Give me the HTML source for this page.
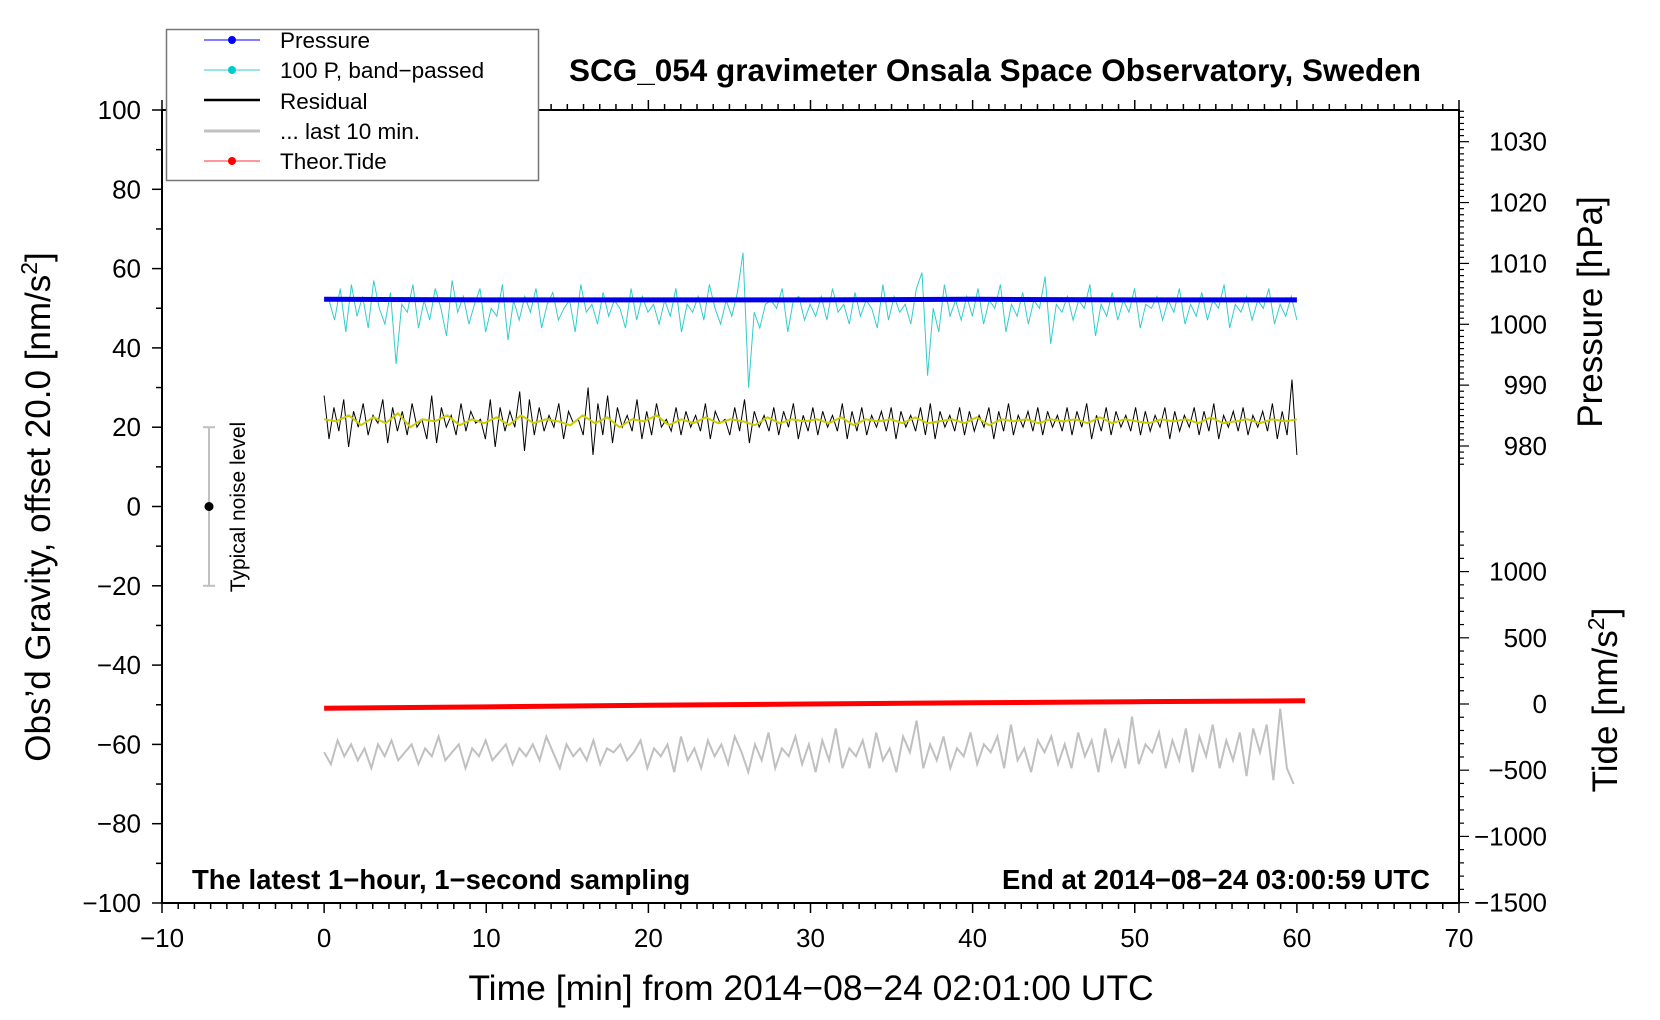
<!DOCTYPE html>
<html><head><meta charset="utf-8"><style>
html,body{margin:0;padding:0;background:#fff;}
svg{display:block;font-family:"Liberation Sans",sans-serif;}
</style></head><body>
<svg id="chart" width="1660" height="1020" viewBox="0 0 1660 1020"></svg>
<script>
// ---- data ----
const xTicks = [-10,0,10,20,30,40,50,60,70];
const yTicks = [100,80,60,40,20,0,-20,-40,-60,-80,-100];
const pTicks = [1030,1020,1010,1000,990,980];
const tTicks = [1000,500,0,-500,-1000,-1500];
const pressureTimes = [0,10,20,30,40,50,60];
const pressureVals = [1004.1,1004.0,1004.0,1004.0,1004.1,1004.0,1004.0];
const tideTimes = [0,10,20,30,40,50,60.5];
const tideVals = [-32,-22,-10,0,9,17,24];
const cyanVals = [52,47,55,44,56,48,53,45,57,50,46,54,36,51,49,56,45,52,47,55,50,43,57,49,53,46,51,55,44,50,48,56,42,52,47,53,49,55,45,51,54,47,50,52,44,56,49,51,46,54,48,52,50,45,55,47,53,49,51,46,
52,48,55,44,51,49,53,47,56,50,46,52,48,54,64,30,49,45,51,52,50,55,44,52,53,47,51,48,53,47,55,49,51,46,54,48,52,50,45,56,47,53,49,51,46,55,59,33,50,44,56,48,52,47,53,48,55,46,52,50,
56,44,51,48,54,46,52,50,58,41,51,49,53,47,52,50,56,43,51,48,54,47,52,49,55,45,51,50,53,47,52,49,55,46,51,48,54,47,52,50,56,45,51,49,53,47,52,50,55,46,51,48,53,47];
const blackVals = [28,17,25,19,27,15,24,20,26,18,23,21,27,16,25,19,24,18,26,20,22,17,28,16,25,20,23,18,26,19,24,21,22,17,27,15,25,19,24,20,29,14,27,18,25,19,23,20,26,17,
24,21,22,18,30,13,26,18,28,16,25,20,23,19,27,17,24,18,26,20,22,19,25,18,24,20,23,19,26,17,24,21,22,18,25,19,27,16,24,20,23,19,25,18,24,20,26,17,23,19,
25,18,24,20,23,19,26,17,24,19,25,18,23,20,24,19,25,17,24,20,23,19,25,18,26,17,24,20,23,19,25,18,24,19,23,20,25,17,24,19,26,18,23,20,24,19,25,18,24,20,
23,19,25,18,24,20,26,17,23,19,25,18,24,20,23,19,25,18,24,19,23,20,25,17,24,19,23,20,25,18,24,19,26,17,23,20,24,19,25,18,23,20,24,19,26,17,24,18,32,13];
const yellowVals = [22,21.5,23,20.5,22.5,21,23.5,20,22,21.5,23,20.5,22,21,22.5,20.5,23,21,22,21.5,20.5,23,21,22.5,20,22,21.5,23,20.5,22,21,22.5,21,22,21.5,20.5,22.5,21,22,21.5,
22,21,22.5,20.5,22,21.5,22,21,22.5,21,21.5,22,21,22.5,20.5,22,21.5,22,21,22,21.5,22,21,22.5,21,22,21.5,21,22,21.5,22,21,22.5,21,21.5,22,21,22,21.5,22];
const grayVals = [-62,-65,-59,-63,-60,-64,-61,-66,-60,-63,-59,-64,-62,-60,-65,-61,-63,-58,-64,-62,-60,-66,-61,-63,-59,-64,-62,-60,-65,-61,-63,-60,-64,-58,-62,-66,-60,-63,-61,-64,
-59,-65,-61,-62,-60,-64,-62,-59,-66,-61,-63,-60,-67,-58,-64,-61,-66,-59,-63,-60,-65,-58,-62,-67,-60,-64,-57,-66,-61,-63,-58,-65,-60,-67,-59,-64,-56,-66,-61,-63,
-59,-66,-57,-64,-61,-67,-58,-62,-54,-66,-60,-64,-58,-66,-61,-63,-57,-65,-60,-62,-58,-66,-55,-64,-61,-67,-59,-62,-58,-65,-60,-66,-57,-63,-59,-67,-56,-64,-59,-66,
-53,-65,-60,-62,-57,-66,-59,-64,-56,-67,-58,-63,-55,-66,-59,-64,-57,-68,-56,-62,-55,-69,-51,-66,-70];

// ---- scales ----
const X0=162,X1=1459,Y0=110,Y1=903;
const sx=v=>X0+(v+10)/80*(X1-X0);
const sy=v=>Y0+(100-v)/200*(Y1-Y0);
const sp=v=>141.7+(1030-v)/50*(446-141.7);
const st=v=>704+(-v)/500*66.2;
const NS='http://www.w3.org/2000/svg';
const svg=document.getElementById('chart');
function mk(tag,attrs,parent){const e=document.createElementNS(NS,tag);for(const k in attrs)e.setAttribute(k,attrs[k]);(parent||svg).appendChild(e);return e;}
function txt(s,attrs,parent){const e=mk('text',attrs,parent);e.textContent=s;return e;}
function series(vals,t0,t1){const n=vals.length;return vals.map((v,i)=>[t0+(t1-t0)*i/(n-1),v]);}
function poly(pts,fy){return pts.map(p=>sx(p[0]).toFixed(1)+','+fy(p[1]).toFixed(1)).join(' ');}

// ---- frame and ticks ----
const ax=mk('g',{stroke:'#000','stroke-width':2,fill:'none'});


mk('path',{d:`M${X0},${Y0}H${X1}V${Y1}H${X0}Z`},ax);
for(let m=-10;m<=70;m++){const x=sx(m);const L=m%10===0?10:6;
 mk('line',{x1:x,y1:Y1,x2:x,y2:Y1+L,'stroke-width':1.5},ax);
 mk('line',{x1:x,y1:Y0,x2:x,y2:Y0-L,'stroke-width':1.5},ax);}
for(let v=-100;v<=100;v+=10){const y=sy(v);mk('line',{x1:X0,y1:y,x2:X0-(v%20===0?10:6),y2:y,'stroke-width':1.5},ax);}
for(let p=977;p<=1035;p++){const y=sp(p);if(y<Y0||y>480)continue;mk('line',{x1:X1,y1:y,x2:X1+(p%10===0?10:5),y2:y,'stroke-width':1.2},ax);}
for(let t=-1500;t<=1300;t+=100){const y=st(t);if(y<500||y>Y1)continue;mk('line',{x1:X1,y1:y,x2:X1+(t%500===0?10:5),y2:y,'stroke-width':1.2},ax);}

const lab={'font-size':26,fill:'#000'};
xTicks.forEach(v=>{const e=txt(v<0?'\u2212'+(-v):String(v),{x:sx(v),y:947,'text-anchor':'middle',...lab});
 
 });
yTicks.forEach(v=>{const e=txt(v<0?'\u2212'+(-v):String(v),{x:141,y:sy(v)+9,'text-anchor':'end',...lab});
 
 });
pTicks.forEach(v=>{const e=txt(String(v),{x:1547,y:sp(v)+9,'text-anchor':'end',...lab});
 
 });
tTicks.forEach(v=>{const e=txt(v<0?'\u2212'+(-v):String(v),{x:1547,y:st(v)+9,'text-anchor':'end',...lab});
 
 });

// ---- series ----
const cyan=mk('polyline',{points:poly(series(cyanVals,0.3,60),sy),fill:'none',stroke:'#33cccc','stroke-width':1});


const blue=mk('polyline',{points:poly(pressureTimes.map((t,i)=>[t,pressureVals[i]]),sp),fill:'none',stroke:'#0000ee','stroke-width':5});


const blk=mk('polyline',{points:poly(series(blackVals,0,60),sy),fill:'none',stroke:'#000','stroke-width':1});


const yel=mk('polyline',{points:poly(series(yellowVals,0,60),sy),fill:'none',stroke:'#cccc00','stroke-width':2});


const red=mk('polyline',{points:poly(tideTimes.map((t,i)=>[t,tideVals[i]]),st),fill:'none',stroke:'#ff0000','stroke-width':5});


const gr=mk('polyline',{points:poly(series(grayVals,0,59.8),sy),fill:'none',stroke:'#c0c0c0','stroke-width':2});



// noise bar
const nb=mk('g',{});


const nx=sx(-7.1);
mk('line',{x1:nx,y1:sy(20),x2:nx,y2:sy(-20),stroke:'#c0c0c0','stroke-width':2},nb);
mk('line',{x1:nx-6,y1:sy(20),x2:nx+6,y2:sy(20),stroke:'#c0c0c0','stroke-width':2},nb);
mk('line',{x1:nx-6,y1:sy(-20),x2:nx+6,y2:sy(-20),stroke:'#c0c0c0','stroke-width':2},nb);
mk('circle',{cx:nx,cy:sy(0),r:4.5,fill:'#000'},nb);
</script>

<svg style="position:absolute;left:0;top:0" width="1660" height="1020">
<text x="995" y="81" text-anchor="middle" font-family="Liberation Sans, sans-serif" font-weight="bold" font-size="31.5">SCG_054 gravimeter Onsala Space Observatory, Sweden</text>
<text x="192" y="889" font-family="Liberation Sans, sans-serif" font-weight="bold" font-size="27.5">The latest 1−hour, 1−second sampling</text>
<text x="1430" y="889" text-anchor="end" font-family="Liberation Sans, sans-serif" font-weight="bold" font-size="27.5">End at 2014−08−24 03:00:59 UTC</text>
<text x="811" y="1000" text-anchor="middle" font-family="Liberation Sans, sans-serif" font-size="35.5">Time [min] from 2014−08−24 02:01:00 UTC</text>
<text transform="translate(50,507) rotate(-90)" text-anchor="middle" font-family="Liberation Sans, sans-serif" font-size="35">Obs’d Gravity, offset 20.0 [nm/s<tspan dy="-13" font-size="23">2</tspan><tspan dy="13">]</tspan></text>
<text transform="translate(1602,312) rotate(-90)" text-anchor="middle" font-family="Liberation Sans, sans-serif" font-size="35">Pressure [hPa]</text>
<text transform="translate(1617,700) rotate(-90)" text-anchor="middle" font-family="Liberation Sans, sans-serif" font-size="35">Tide [nm/s<tspan dy="-13" font-size="23">2</tspan><tspan dy="13">]</tspan></text>
<text transform="translate(245,507) rotate(-90)" text-anchor="middle" font-family="Liberation Sans, sans-serif" font-size="21">Typical noise level</text>
<g>
<rect x="166.5" y="29.5" width="372" height="151" fill="#fff" stroke="#777" stroke-width="1.5"/>
<g><line x1="204" y1="40" x2="260" y2="40" stroke="#0000ff" stroke-width="1"/><circle cx="232" cy="40" r="4" fill="#0000ff"/><text x="280" y="48" font-family="Liberation Sans, sans-serif" font-size="22.5">Pressure</text></g>
<g><line x1="204" y1="70" x2="260" y2="70" stroke="#33cccc" stroke-width="1"/><circle cx="232" cy="70" r="4" fill="#00cccc"/><text x="280" y="78" font-family="Liberation Sans, sans-serif" font-size="22.5">100 P, band−passed</text></g>
<g><line x1="204" y1="100" x2="260" y2="100" stroke="#000" stroke-width="2.5"/><text x="280" y="109" font-family="Liberation Sans, sans-serif" font-size="22.5">Residual</text></g>
<g><line x1="204" y1="131" x2="260" y2="131" stroke="#c0c0c0" stroke-width="3"/><text x="280" y="139" font-family="Liberation Sans, sans-serif" font-size="22.5">... last 10 min.</text></g>
<g><line x1="204" y1="161" x2="260" y2="161" stroke="#ff3333" stroke-width="1"/><circle cx="232" cy="161" r="4" fill="#ff0000"/><text x="280" y="169" font-family="Liberation Sans, sans-serif" font-size="22.5">Theor.Tide</text></g>
</g>
</svg>
</body></html>
